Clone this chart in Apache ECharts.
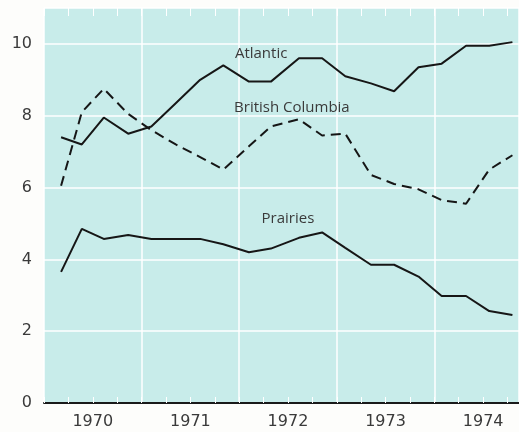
<!DOCTYPE html>
<html>
<head>
<meta charset="utf-8">
<script src="https://cdn.jsdelivr.net/npm/echarts@6/dist/echarts.min.js"></script>
<style>
  html, body { margin: 0; padding: 0; background: #fdfdfb; }
  #chart { width: 519px; height: 432px; }
</style>
</head>
<body>
<div id="chart"></div>
<script>
// x positions in quarters from the start of 1970
const quarterX = [0.7, 1.55, 2.45, 3.45, 4.4, 5.4, 6.4, 7.35, 8.4, 9.3,
  10.45, 11.4, 12.35, 13.4, 14.35, 15.35, 16.3, 17.3, 18.25, 19.2];
const yearLabels = ["1970", "1971", "1972", "1973", "1974"];

const atlantic = [7.4, 7.2, 7.95, 7.5, 7.7, 8.35, 9.0, 9.4, 8.95, 8.95,
  9.6, 9.6, 9.1, 8.9, 8.68, 9.35, 9.45, 9.95, 9.95, 10.05];
const britishColumbia = [6.05, 8.1, 8.75, 8.05, 7.6, 7.2, 6.85, 6.5, 7.15, 7.7,
  7.9, 7.45, 7.5, 6.35, 6.1, 5.95, 5.65, 5.55, 6.5, 6.9];
const prairies = [3.65, 4.85, 4.57, 4.68, 4.57, 4.57, 4.57, 4.42, 4.2, 4.3,
  4.6, 4.75, 4.32, 3.85, 3.85, 3.52, 2.98, 2.98, 2.56, 2.45];

const X_MAX = 19.47;
const txt = "#3a3a3a";
const font = "'DejaVu Sans', sans-serif";

const pairs = (vals) => vals.map((v, i) => [quarterX[i], v]);

const chart = echarts.init(document.getElementById("chart"));

function lineSeries(name, vals, dashed, labelCoord) {
  return {
    name: name,
    type: "line",
    xAxisIndex: 0,
    data: pairs(vals),
    symbol: "none",
    animation: false,
    lineStyle: {
      color: "#161616",
      width: 2,
      type: dashed ? [10, 6] : "solid",
    },
    markPoint: {
      symbol: "circle",
      symbolSize: 0,
      silent: true,
      data: [{ coord: labelCoord }],
      label: {
        show: true,
        formatter: name,
        color: txt,
        fontFamily: "'Open Sans', sans-serif",
        fontSize: 15,
      },
    },
  };
}

chart.setOption({
  animation: false,
  grid: {
    left: 44,
    right: 0,
    top: 8,
    bottom: 29,
    outerBoundsMode: "none",
    containLabel: false,
    show: true,
    backgroundColor: "#c8ecea",
    borderWidth: 0,
  },
  xAxis: [
    {
      // grid lines, quarter ticks and base line
      type: "value",
      position: "bottom",
      min: 0,
      max: X_MAX,
      interval: 4,
      axisLine: { show: true, onZero: false, lineStyle: { color: "#1a1a1a", width: 2 } },
      axisTick: { show: true, inside: true, length: 6, lineStyle: { color: "#fff", width: 1 } },
      minorTick: { show: true, splitNumber: 4, length: 6, lineStyle: { color: "#fff", width: 1 } },
      splitLine: { show: true, lineStyle: { color: "#ffffff", width: 1.5 } },
      axisLabel: { show: false },
    },
    {
      // year labels centred in each year
      type: "value",
      position: "bottom",
      offset: 0,
      min: 0,
      max: X_MAX,
      interval: 2,
      axisLine: { show: false, onZero: false },
      axisTick: { show: false },
      minorTick: { show: false },
      splitLine: { show: false },
      axisLabel: {
        show: true,
        margin: 11,
        color: txt,
        fontFamily: font,
        fontSize: 16,
        showMaxLabel: false,
        formatter: (v) => {
          const k = Math.round(v);
          return k % 4 === 2 ? yearLabels[(k - 2) / 4] || "" : "";
        },
      },
    },
    {
      // quarter ticks along the top edge
      type: "value",
      position: "top",
      min: 0,
      max: X_MAX,
      interval: 4,
      axisLine: { show: false, onZero: false },
      axisTick: { show: true, inside: true, length: 8, lineStyle: { color: "#fff", width: 1 } },
      minorTick: { show: true, splitNumber: 4, length: 8, lineStyle: { color: "#fff", width: 1 } },
      splitLine: { show: false },
      axisLabel: { show: false },
    },
  ],
  yAxis: {
    type: "value",
    min: 0,
    max: 11,
    interval: 2,
    axisLine: { show: false },
    axisTick: { show: false },
    splitLine: { show: true, lineStyle: { color: "#ffffff", width: 1.5 } },
    axisLabel: {
      color: txt,
      fontFamily: font,
      fontSize: 16,
      margin: 12,
      showMaxLabel: false,
    },
  },
  series: [
    lineSeries("Atlantic", atlantic, false, [8.9, 9.72]),
    lineSeries("British Columbia", britishColumbia, true, [10.16, 8.22]),
    lineSeries("Prairies", prairies, false, [10.0, 5.14]),
  ],
});
</script>
</body>
</html>
